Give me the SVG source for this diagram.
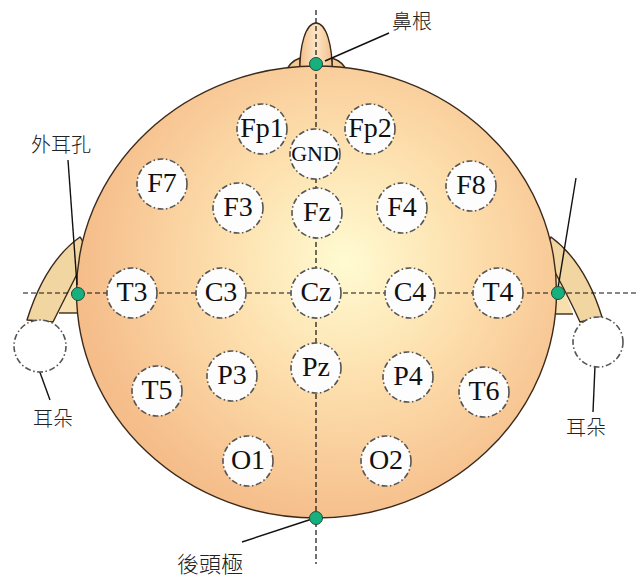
<svg xmlns="http://www.w3.org/2000/svg" width="643" height="577" viewBox="0 0 643 577">
  <style>
    .outline { stroke: #3b2a1c; stroke-width: 1.4; stroke-linejoin: round; }
    .axis { stroke: #111; stroke-width: 1.2; stroke-dasharray: 5 3; fill: none; }
    .leader { stroke: #111; stroke-width: 1.4; fill: none; }
    .electrode circle { fill: #fdfdfd; stroke: #555; stroke-width: 1.6; stroke-dasharray: 6 2.5 1.5 2.5; }
    .electrode text { font-family: "Liberation Serif", "Times New Roman", serif; font-size: 28px; fill: #111; text-anchor: middle; }
    .lobe { fill: #ffffff; stroke: #555; stroke-width: 1.6; stroke-dasharray: 6 2.5 1.5 2.5; }
    .marker { fill: #16b07e; stroke: #1d4f3c; stroke-width: 1; }
    .label { font-family: "Noto Sans CJK TC", "Noto Sans CJK SC", sans-serif; font-size: 20px; font-weight: 300; fill: #222; }
  </style>
  <defs>
    <radialGradient id="scalp" gradientUnits="userSpaceOnUse" cx="345" cy="262" r="265">
      <stop offset="0" stop-color="#fffbd2"/>
      <stop offset="0.45" stop-color="#fde0ae"/>
      <stop offset="1" stop-color="#f5bd8a"/>
    </radialGradient>
    <linearGradient id="noseFill" x1="0" y1="0" x2="1" y2="0">
      <stop offset="0" stop-color="#f3c08c"/>
      <stop offset="0.5" stop-color="#fde6c6"/>
      <stop offset="1" stop-color="#f3c08c"/>
    </linearGradient>
  </defs>

  <!-- ears (behind the head) -->
  <g id="ear-left">
    <path d="M76,274 L59,313 L100,313 L100,274 Z" fill="#f8e0ae"/>
    <path class="outline" d="M27,320 Q45,262 80,237 Q88,246 78,272 Q64,300 53,322 Z" fill="#f2d6a2"/>
    <line class="outline" x1="59" y1="313" x2="82" y2="313"/>
  </g>
  <g id="ear-right">
    <path d="M559,274 L573,314 L530,314 L530,274 Z" fill="#f8e0ae"/>
    <path class="outline" d="M602,317 Q585,262 551,237 Q543,248 556,274 Q570,300 580,322 Z" fill="#f2d6a2"/>
    <line class="outline" x1="552" y1="314" x2="573" y2="314"/>
  </g>

  <!-- nose (behind the head) -->
  <g id="nose">
    <path class="outline" d="M286,72 Q289,62 300,58 L300,72 Z" fill="#f5c894"/>
    <path class="outline" d="M347,72 Q344,62 332,58 L332,72 Z" fill="#f5c894"/>
    <path class="outline" d="M300,74 C299,45 306,23 316,23 C326,23 333,45 332,74 Z" fill="url(#noseFill)"/>
  </g>

  <!-- head -->
  <g id="head">
    <ellipse class="outline" cx="316.5" cy="292" rx="240" ry="226" fill="url(#scalp)"/>
  </g>

  <!-- connectors: midline axes and leader lines -->
  <g id="connectors">
    <line class="axis" x1="316" y1="10" x2="316" y2="564"/>
    <line class="axis" x1="23" y1="293" x2="637" y2="293"/>
    <line class="leader" x1="325" y1="61" x2="389" y2="33"/>
    <line class="leader" x1="68" y1="160" x2="77" y2="285"/>
    <line class="leader" x1="576" y1="178" x2="558" y2="288"/>
    <line class="leader" x1="38" y1="367" x2="50" y2="400"/>
    <line class="leader" x1="595" y1="366" x2="593" y2="412"/>
    <line class="leader" x1="312" y1="519" x2="242" y2="542"/>
  </g>

  <!-- electrodes -->
  <g id="Fp1" class="electrode"><circle cx="262" cy="129" r="25"/><text x="262" y="137">Fp1</text></g>
  <g id="Fp2" class="electrode"><circle cx="370" cy="129" r="25"/><text x="370" y="137">Fp2</text></g>
  <g id="GND" class="electrode"><circle cx="315" cy="154" r="25"/><text x="315" y="161" style="font-size:22px">GND</text></g>
  <g id="F7" class="electrode"><circle cx="162" cy="184" r="25"/><text x="162" y="192">F7</text></g>
  <g id="F8" class="electrode"><circle cx="471" cy="186" r="25"/><text x="471" y="194">F8</text></g>
  <g id="F3" class="electrode"><circle cx="238" cy="208" r="25"/><text x="238" y="216">F3</text></g>
  <g id="Fz" class="electrode"><circle cx="317" cy="213" r="25"/><text x="317" y="221">Fz</text></g>
  <g id="F4" class="electrode"><circle cx="402" cy="208" r="25"/><text x="402" y="216">F4</text></g>
  <g id="T3" class="electrode"><circle cx="132" cy="293" r="25"/><text x="132" y="301">T3</text></g>
  <g id="C3" class="electrode"><circle cx="221" cy="293" r="25"/><text x="221" y="301">C3</text></g>
  <g id="Cz" class="electrode"><circle cx="316" cy="293" r="25"/><text x="316" y="301">Cz</text></g>
  <g id="C4" class="electrode"><circle cx="410" cy="293" r="25"/><text x="410" y="301">C4</text></g>
  <g id="T4" class="electrode"><circle cx="498" cy="293" r="25"/><text x="498" y="301">T4</text></g>
  <g id="T5" class="electrode"><circle cx="157" cy="391" r="25"/><text x="157" y="399">T5</text></g>
  <g id="P3" class="electrode"><circle cx="232" cy="376" r="25"/><text x="232" y="384">P3</text></g>
  <g id="Pz" class="electrode"><circle cx="316" cy="368" r="25"/><text x="316" y="376">Pz</text></g>
  <g id="P4" class="electrode"><circle cx="408" cy="377" r="25"/><text x="408" y="385">P4</text></g>
  <g id="T6" class="electrode"><circle cx="484" cy="392" r="25"/><text x="484" y="400">T6</text></g>
  <g id="O1" class="electrode"><circle cx="248" cy="461" r="25"/><text x="248" y="469">O1</text></g>
  <g id="O2" class="electrode"><circle cx="386" cy="461" r="25"/><text x="386" y="469">O2</text></g>

  <!-- ear lobes -->
  <g id="lobe-left"><circle class="lobe" cx="40" cy="346" r="26"/></g>
  <g id="lobe-right"><circle class="lobe" cx="598" cy="342" r="25"/></g>

  <!-- landmark points -->
  <g id="landmarks">
    <circle class="marker" cx="316" cy="64" r="6.5"/>
    <circle class="marker" cx="78" cy="294" r="6.5"/>
    <circle class="marker" cx="558" cy="293" r="6.5"/>
    <circle class="marker" cx="316" cy="518" r="6.5"/>
  </g>

  <!-- landmark labels -->
  <g id="labels">
    <text class="label" x="392" y="29">鼻根</text>
    <text class="label" x="31" y="152">外耳孔</text>
    <text class="label" x="33" y="426">耳朵</text>
    <text class="label" x="566" y="435">耳朵</text>
    <text class="label" x="177" y="572" style="font-size:22px">後頭極</text>
  </g>
</svg>
